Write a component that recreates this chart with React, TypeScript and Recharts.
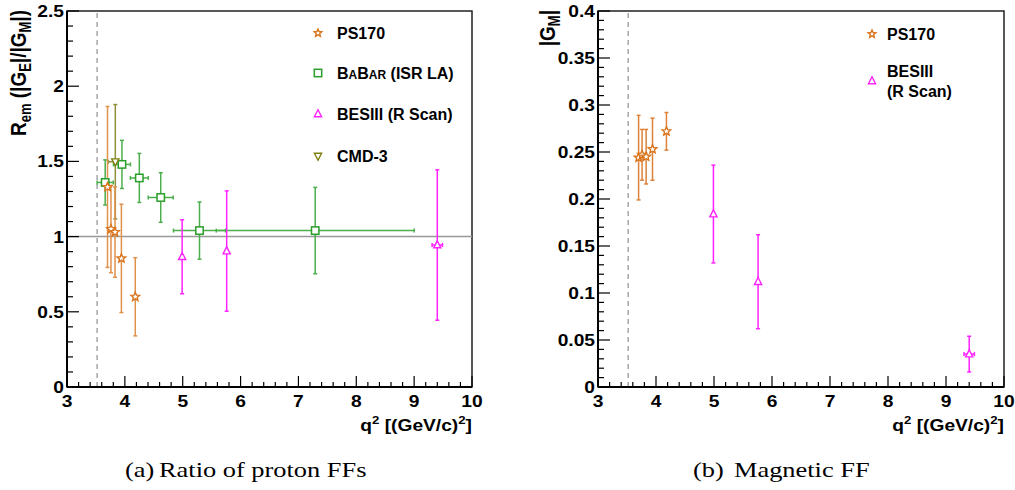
import { ScatterChart, Scatter, XAxis, YAxis, ErrorBar, ReferenceLine, ReferenceArea } from 'recharts'

// PS170
const psQ2 = [3.70, 3.76, 3.83, 3.94, 4.18]
const psRatio = [1.33, 1.05, 1.03, 0.855, 0.60]
const psRatioErr = [0.535, 0.29, 0.30, 0.36, 0.26]
const psGm = [0.244, 0.247, 0.245, 0.253, 0.272]
const psGmErr = [0.045, 0.027, 0.029, 0.033, 0.020]

// BaBar (ISR LA)
const babarQ2 = [3.66, 3.95, 4.25, 4.62, 5.29, 7.29]
const babarQ2Err = [0.14, 0.147, 0.155, 0.216, 0.45, 1.71]
const babarRatio = [1.36, 1.48, 1.39, 1.26, 1.04, 1.04]
const babarRatioErr = [0.15, 0.16, 0.163, 0.165, 0.19, 0.287]

// BESIII (R Scan)
const besQ2 = [4.99, 5.76, 9.40]
const besQ2Err = [0, 0, 0.09]
const besRatio = [0.866, 0.904, 0.944]
const besRatioErr = [0.246, 0.40, 0.50]
const besGm = [0.184, 0.112, 0.035]
const besGmErr = [0.052, 0.050, 0.019]

// CMD-3
const cmdQ2 = [3.835]
const cmdQ2Err = [0.12]
const cmdRatio = [1.498]
const cmdRatioErr = [0.38]

const xMajor = [3, 4, 5, 6, 7, 8, 9, 10]
const ratioMajor = [0, 0.5, 1, 1.5, 2, 2.5]
const gmMajor = [0, 0.05, 0.1, 0.15, 0.2, 0.25, 0.3, 0.35, 0.4]

const ORANGE = '#d9741c'
const GREEN = '#2a9e2a'
const MAGENTA = '#ff22ff'
const OLIVE = '#7f7f10'

const rows = (x: number[], y: number[], ey: number[], ex?: number[]) =>
  x.map((v, i) => ({ x: v, y: y[i], ey: ey[i], ex: ex ? ex[i] : 0 }))

// add minor ticks between majors
const withMinor = (majors: number[], n: number) => {
  const out: number[] = []
  for (let i = 0; i < majors.length - 1; i++) {
    const step = (majors[i + 1] - majors[i]) / n
    for (let k = 0; k < n; k++) out.push(+(majors[i] + k * step).toFixed(4))
  }
  out.push(majors[majors.length - 1])
  return out
}

const isMajor = (v: number, majors: number[]) => majors.some(m => Math.abs(m - v) < 1e-6)

const tickFont = { fontFamily: 'Liberation Sans, Arial, sans-serif', fontWeight: 700, fontSize: 16, fill: '#000' }

const makeXTick = (majors: number[]) => (p: any) => {
  const { x, y, payload } = p
  const major = isMajor(payload.value, majors)
  return (
    <g>
      <line x1={x} x2={x} y1={y} y2={y - (major ? 11 : 5)} stroke="#000" strokeWidth={1.2} />
      {major && (
        <text transform={`translate(${x},${y + 20}) scale(1.2,1)`} textAnchor="middle" {...tickFont}>
          {payload.value}
        </text>
      )}
    </g>
  )
}

const makeYTick = (majors: number[]) => (p: any) => {
  const { x, y, payload } = p
  const major = isMajor(payload.value, majors)
  return (
    <g>
      <line x1={x} x2={x + (major ? 12 : 6)} y1={y} y2={y} stroke="#000" strokeWidth={1.2} />
      {major && (
        <text transform={`translate(${x - 3},${y + 6}) scale(1.2,1)`} textAnchor="end" {...tickFont}>
          {String(+payload.value.toFixed(2))}
        </text>
      )}
    </g>
  )
}

function Star({ cx, cy, color, r = 4.5 }: { cx: number; cy: number; color: string; r?: number }) {
  const pts: string[] = []
  for (let i = 0; i < 10; i++) {
    const rad = i % 2 === 0 ? r : r * 0.45
    const a = -Math.PI / 2 + (i * Math.PI) / 5
    pts.push(`${cx + rad * Math.cos(a)},${cy + rad * Math.sin(a)}`)
  }
  return <polygon points={pts.join(' ')} fill="#fff" stroke={color} strokeWidth={1.4} />
}

function Square({ cx, cy, color }: { cx: number; cy: number; color: string }) {
  return <rect x={cx - 3.7} y={cy - 3.7} width={7.4} height={7.4} fill="#fff" stroke={color} strokeWidth={1.5} />
}

function TriUp({ cx, cy, color }: { cx: number; cy: number; color: string }) {
  return (
    <polygon
      points={`${cx},${cy - 4.2} ${cx - 3.6},${cy + 2.8} ${cx + 3.6},${cy + 2.8}`}
      fill="#fff"
      stroke={color}
      strokeWidth={1.4}
    />
  )
}

function TriDown({ cx, cy, color }: { cx: number; cy: number; color: string }) {
  return (
    <polygon
      points={`${cx},${cy + 4.2} ${cx - 3.6},${cy - 2.8} ${cx + 3.6},${cy - 2.8}`}
      fill="#fff"
      stroke={color}
      strokeWidth={1.4}
    />
  )
}

const errProps = { width: 2, strokeWidth: 1.5 }

const CHART_H = 440
const margin = { top: 11, left: 17, right: 28, bottom: 23 }

function RatioChart() {
  return (
    <ScatterChart width={500} height={CHART_H} margin={margin}>
      <ReferenceArea x1={3} x2={10} y1={0} y2={2.5} fill="none" stroke="#222" strokeWidth={1.5} />
      <ReferenceLine y={1} stroke="#999" strokeWidth={1.5} />
      <ReferenceLine x={3.52} stroke="#999" strokeWidth={1.3} strokeDasharray="5 4" />
      <XAxis
        type="number"
        dataKey="x"
        domain={[3, 10]}
        ticks={withMinor(xMajor, 5)}
        interval={0}
        tickSize={0}
        tickMargin={0}
        tickLine={false}
        tick={makeXTick(xMajor)}
        axisLine={{ stroke: '#000', strokeWidth: 2 }}
        height={30}
        allowDataOverflow
      />
      <YAxis
        type="number"
        dataKey="y"
        domain={[0, 2.5]}
        ticks={withMinor(ratioMajor, 5)}
        interval={0}
        tickSize={0}
        tickMargin={0}
        tickLine={false}
        tick={makeYTick(ratioMajor)}
        axisLine={{ stroke: '#000', strokeWidth: 2 }}
        width={50}
        allowDataOverflow
      />
      <Scatter
        data={rows(babarQ2, babarRatio, babarRatioErr, babarQ2Err)}
        isAnimationActive={false}
        shape={(p: any) => <Square cx={p.cx} cy={p.cy} color={GREEN} />}
      >
        <ErrorBar dataKey="ey" direction="y" stroke="#4cae4c" {...errProps} />
        <ErrorBar dataKey="ex" direction="x" stroke="#4cae4c" {...errProps} />
      </Scatter>
      <Scatter
        data={rows(cmdQ2, cmdRatio, cmdRatioErr, cmdQ2Err)}
        isAnimationActive={false}
        shape={(p: any) => <TriDown cx={p.cx} cy={p.cy} color={OLIVE} />}
      >
        <ErrorBar dataKey="ey" direction="y" stroke="#8f8f3a" {...errProps} />
        <ErrorBar dataKey="ex" direction="x" stroke="#8f8f3a" {...errProps} />
      </Scatter>
      <Scatter
        data={rows(psQ2, psRatio, psRatioErr)}
        isAnimationActive={false}
        shape={(p: any) => <Star cx={p.cx} cy={p.cy} color={ORANGE} />}
      >
        <ErrorBar dataKey="ey" direction="y" stroke="#e0914a" {...errProps} />
      </Scatter>
      <Scatter
        data={rows(besQ2, besRatio, besRatioErr, besQ2Err)}
        isAnimationActive={false}
        shape={(p: any) => <TriUp cx={p.cx} cy={p.cy} color={MAGENTA} />}
      >
        <ErrorBar dataKey="ey" direction="y" stroke={MAGENTA} {...errProps} />
        <ErrorBar dataKey="ex" direction="x" stroke={MAGENTA} {...errProps} />
      </Scatter>
    </ScatterChart>
  )
}

function GmChart() {
  return (
    <ScatterChart width={485} height={CHART_H} margin={{ top: 11, left: 18, right: 11, bottom: 23 }}>
      <ReferenceArea x1={3} x2={10} y1={0} y2={0.4} fill="none" stroke="#222" strokeWidth={1.5} />
      <ReferenceLine x={3.52} stroke="#999" strokeWidth={1.3} strokeDasharray="5 4" />
      <XAxis
        type="number"
        dataKey="x"
        domain={[3, 10]}
        ticks={withMinor(xMajor, 5)}
        interval={0}
        tickSize={0}
        tickMargin={0}
        tickLine={false}
        tick={makeXTick(xMajor)}
        axisLine={{ stroke: '#000', strokeWidth: 2 }}
        height={30}
        allowDataOverflow
      />
      <YAxis
        type="number"
        dataKey="y"
        domain={[0, 0.4]}
        ticks={withMinor(gmMajor, 5)}
        interval={0}
        tickSize={0}
        tickMargin={0}
        tickLine={false}
        tick={makeYTick(gmMajor)}
        axisLine={{ stroke: '#000', strokeWidth: 2 }}
        width={50}
        allowDataOverflow
      />
      <Scatter
        data={rows(psQ2, psGm, psGmErr)}
        isAnimationActive={false}
        shape={(p: any) => <Star cx={p.cx} cy={p.cy} color={ORANGE} />}
      >
        <ErrorBar dataKey="ey" direction="y" stroke="#dd8238" {...errProps} />
      </Scatter>
      <Scatter
        data={rows(besQ2, besGm, besGmErr, besQ2Err)}
        isAnimationActive={false}
        shape={(p: any) => <TriUp cx={p.cx} cy={p.cy} color={MAGENTA} />}
      >
        <ErrorBar dataKey="ey" direction="y" stroke={MAGENTA} {...errProps} />
        <ErrorBar dataKey="ex" direction="x" stroke={MAGENTA} {...errProps} />
      </Scatter>
    </ScatterChart>
  )
}

const bold = { fontFamily: 'Liberation Sans, Arial, sans-serif', fontWeight: 700, fill: '#000' }
const serif = { fontFamily: 'Liberation Serif, Times New Roman, serif', fontSize: 22, fill: '#000' }

function XTitle({ right }: { right: number }) {
  return (
    <text transform={`translate(${right},431) scale(1.2,1)`} textAnchor="end" fontSize={16} {...bold}>
      q<tspan fontSize={11} dy={-7}>2</tspan>
      <tspan dy={7}> [(GeV/c)</tspan>
      <tspan fontSize={11} dy={-7}>2</tspan>
      <tspan dy={7}>]</tspan>
    </text>
  )
}

function Overlay() {
  const lx = 318
  const tx = 337
  return (
    <svg width={1015} height={490} style={{ position: 'absolute', left: 0, top: 0, pointerEvents: 'none' }}>
      {/* y titles */}
      <text transform="translate(26,10) scale(1.2,1) rotate(-90)" textAnchor="end" fontSize={19} {...bold}>
        R<tspan fontSize={13} dy={4}>em</tspan>
        <tspan dy={-4}> (|G</tspan>
        <tspan fontSize={13} dy={4}>E</tspan>
        <tspan dy={-4}>|/|G</tspan>
        <tspan fontSize={13} dy={4}>M</tspan>
        <tspan dy={-4}>|)</tspan>
      </text>
      <text transform="translate(555,10) scale(1.2,1) rotate(-90)" textAnchor="end" fontSize={19} {...bold}>
        |G<tspan fontSize={13} dy={4}>M</tspan>
        <tspan dy={-4}>|</tspan>
      </text>
      <XTitle right={472} />
      <XTitle right={1004} />

      {/* left legend */}
      <Star cx={lx} cy={33} color={ORANGE} r={4} />
      <text x={tx} y={39} fontSize={16} {...bold}>PS170</text>
      <Square cx={lx} cy={73} color={GREEN} />
      <text x={tx} y={79} fontSize={16} {...bold}>
        B<tspan fontSize={12}>A</tspan>B<tspan fontSize={12}>AR</tspan> (ISR LA)
      </text>
      <TriUp cx={lx} cy={114} color={MAGENTA} />
      <text x={tx} y={120} fontSize={16} {...bold}>BESIII (R Scan)</text>
      <TriDown cx={lx} cy={156} color={OLIVE} />
      <text x={tx} y={162} fontSize={16} {...bold}>CMD-3</text>

      {/* right legend */}
      <Star cx={872} cy={34} color={ORANGE} r={4} />
      <text x={887} y={40} fontSize={16} {...bold}>PS170</text>
      <TriUp cx={872} cy={81} color={MAGENTA} />
      <text x={887} y={77} fontSize={16} {...bold}>BESIII</text>
      <text x={887} y={97} fontSize={16} {...bold}>(R Scan)</text>

      {/* captions */}
      <text transform="translate(125,477) scale(1.2,1)" {...serif}>(a)</text>
      <text transform="translate(159,477) scale(1.2,1)" {...serif}>Ratio of proton FFs</text>
      <text transform="translate(693,477) scale(1.2,1)" {...serif}>(b)</text>
      <text transform="translate(734,477) scale(1.2,1)" {...serif}>Magnetic FF</text>
    </svg>
  )
}

export default function App() {
  return (
    <div style={{ position: 'relative', width: 1015, height: 490, background: '#fff' }}>
      <style>{'body{margin:0}'}</style>
      <div style={{ position: 'absolute', left: 0, top: 0 }}>
        <RatioChart />
      </div>
      <div style={{ position: 'absolute', left: 530, top: 0 }}>
        <GmChart />
      </div>
      <Overlay />
    </div>
  )
}
